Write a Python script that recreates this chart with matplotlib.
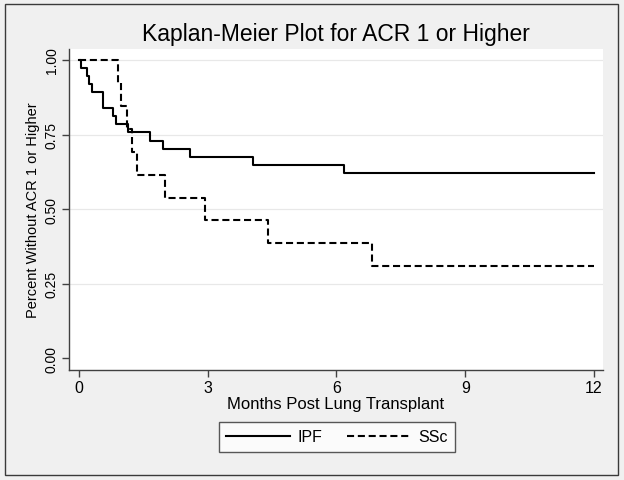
import matplotlib
matplotlib.use("Agg")
import matplotlib.pyplot as plt
from matplotlib.lines import Line2D
from matplotlib.patches import Rectangle

# Kaplan-Meier step data
ipf_time = [0, 0.04, 0.19, 0.23, 0.30, 0.57, 0.79, 0.86, 1.15, 1.65, 1.97, 2.59, 4.06, 6.18, 12.0]
ipf_surv = [1.0, 0.973, 0.946, 0.919, 0.892, 0.838, 0.811, 0.784, 0.757, 0.730, 0.703, 0.676, 0.649, 0.622, 0.622]

ssc_time = [0, 0.92, 0.99, 1.13, 1.23, 1.35, 2.00, 2.94, 4.41, 6.82, 12.0]
ssc_surv = [1.0, 0.923, 0.846, 0.769, 0.692, 0.615, 0.538, 0.462, 0.385, 0.308, 0.308]

x_ticks = [0, 3, 6, 9, 12]
y_ticks = [0.0, 0.25, 0.5, 0.75, 1.0]
y_ticklabels = ["0.00", "0.25", "0.50", "0.75", "1.00"]

W, H = 624, 481
fig = plt.figure(figsize=(W / 100, H / 100), dpi=100)
fig.patch.set_facecolor("#f0f0f0")

# outer frame
fig.patches.append(Rectangle((5 / W, 5 / H), 613 / W, 471 / H, transform=fig.transFigure,
                             fill=False, edgecolor="#3a3a3a", linewidth=1.0))

ax = fig.add_axes([69 / W, (H - 371) / H, (603 - 69) / W, (371 - 50) / H])
ax.set_facecolor("white")

for y in y_ticks[1:]:
    ax.axhline(y, color="#e8e8e8", linewidth=0.9, zorder=0)

dash = (0, (3.4, 1.8))
ax.step(ipf_time, ipf_surv, where="post", color="black", linewidth=1.5, label="IPF")
ax.step(ssc_time, ssc_surv, where="post", color="black", linewidth=1.5,
        linestyle=dash, label="SSc")

ax.set_xlim(-0.23, 12.21)
ax.set_ylim(-0.04, 1.037)

ax.spines["top"].set_visible(False)
ax.spines["right"].set_visible(False)
for s in ["left", "bottom"]:
    ax.spines[s].set_color("#404040")
    ax.spines[s].set_linewidth(1.0)

font = "Liberation Sans"
ax.set_xticks(x_ticks)
ax.set_xticklabels([str(t) for t in x_ticks], family=font, fontsize=11.5)
ax.set_yticks(y_ticks)
ax.set_yticklabels(y_ticklabels, family=font, fontsize=10, rotation=90, va="center")
ax.tick_params(direction="out", length=5, width=1, color="#404040", pad=2.5)

ax.set_xlabel("Months Post Lung Transplant", family=font, fontsize=12, labelpad=0.5)
ax.set_ylabel("Percent Without ACR 1 or Higher", family=font, fontsize=10.5, labelpad=3)

fig.text(336 / W, 1 - 35 / H, "Kaplan-Meier Plot for ACR 1 or Higher", ha="center", va="center",
         family=font, fontsize=16.5)

handles = [Line2D([], [], color="black", linewidth=1.5),
           Line2D([], [], color="black", linewidth=1.5, linestyle=dash)]
leg = fig.legend(handles, ["IPF", "SSc"], loc="center", bbox_to_anchor=(337 / W, 1 - 438 / H),
                 ncol=2, frameon=True, fancybox=False, edgecolor="#303030",
                 prop={"family": font, "size": 11.5}, handlelength=4.0, columnspacing=1.5,
                 handletextpad=0.5, borderpad=0.45)
leg.get_frame().set_linewidth(1.0)

fig.savefig("out.png", dpi=100, facecolor=fig.get_facecolor())
